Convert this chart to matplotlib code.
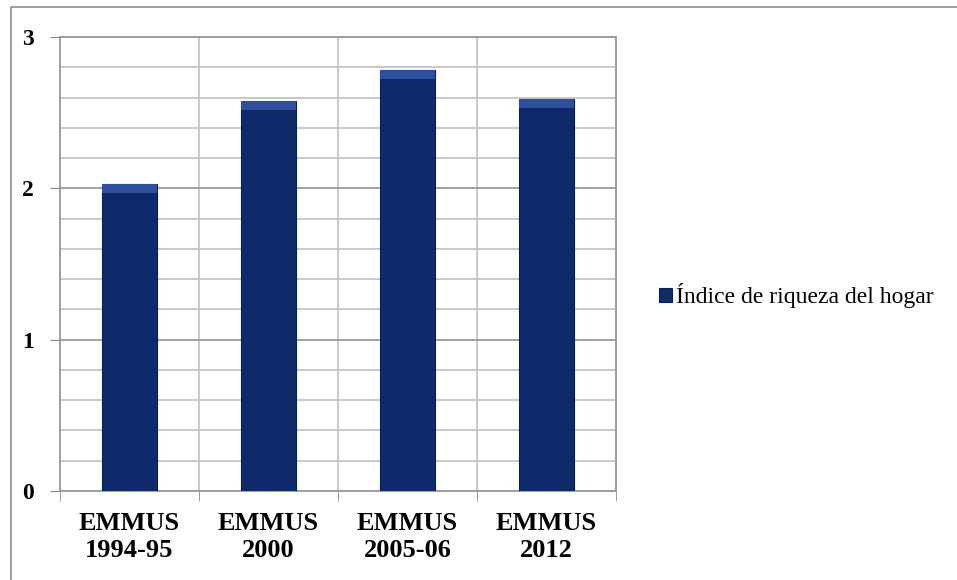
import matplotlib.pyplot as plt
import numpy as np
from matplotlib.patches import Rectangle

plt.rcParams["font.family"] = "Liberation Serif"

categories = ["EMMUS\n1994-95", "EMMUS\n2000", "EMMUS\n2005-06", "EMMUS\n2012"]
values = [2.03, 2.58, 2.78, 2.59]
series_name = "Índice de riqueza del hogar"

fig = plt.figure(figsize=(9.57, 5.80), dpi=100)
ax = fig.add_axes([0.0627, 0.1534, 0.5810, 0.7828])

x = np.arange(len(categories))
bars = ax.bar(x, values, width=0.4, color="#0f2a6b", edgecolor="#0a1f55",
              linewidth=0.8, label=series_name, zorder=3)

# light bevel along the top of each bar
for b in bars:
    ax.add_patch(Rectangle((b.get_x(), b.get_height() - 0.06), b.get_width(), 0.06,
                           facecolor="#2f4f9c", edgecolor="none", zorder=4))

ax.set_xlim(-0.5, len(categories) - 0.5)
ax.set_ylim(0, 3)
ax.set_yticks([0, 1, 2, 3])
ax.set_yticks(np.arange(0, 3.01, 0.2), minor=True)
ax.set_xticks(x)
ax.set_xticklabels(categories, fontsize=19, fontweight="bold", linespacing=1.25)
ax.set_xticks(np.arange(-0.5, len(categories), 1.0), minor=True)
ax.tick_params(axis="x", which="major", length=0, pad=15)
ax.tick_params(axis="x", which="minor", length=7, color="#888888", direction="out")
ax.tick_params(axis="y", which="major", length=7, color="#888888", labelsize=17, pad=12)
ax.tick_params(axis="y", which="minor", length=0)
for lab in ax.get_yticklabels():
    lab.set_fontweight("bold")

ax.grid(True, which="minor", axis="both", color="#c4c4c4", linewidth=1.3, zorder=0)
ax.grid(True, which="major", axis="y", color="#9a9a9a", linewidth=1.3, zorder=0)
for s in ax.spines.values():
    s.set_color("#9a9a9a")
    s.set_linewidth(1.3)

fig.legend(handles=[bars], labels=[series_name], loc="center left",
           bbox_to_anchor=(659 / 957, 1 - 296 / 580), frameon=False, fontsize=17,
           borderpad=0, borderaxespad=0,
           handlelength=0.55, handleheight=0.55, handletextpad=0.15)

fig.patches.append(Rectangle((11 / 957, -0.01), 1.0, 1 - 7 / 580 + 0.01,
                             transform=fig.transFigure, fill=False,
                             edgecolor="#8c8c8c", linewidth=1.2))

fig.savefig("out.png", dpi=100)
